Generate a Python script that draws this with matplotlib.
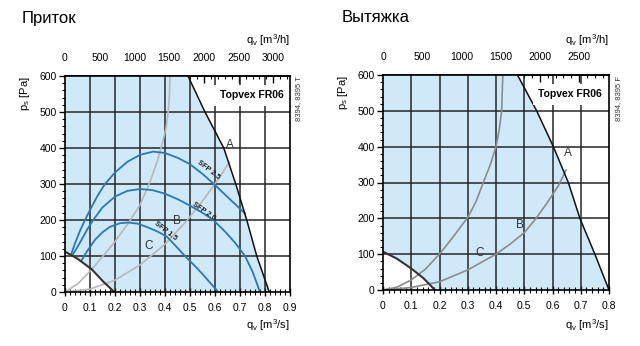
"""Topvex FR06 fan charts: supply (Приток) and extract (Вытяжка)."""

import matplotlib
matplotlib.use("Agg")
import matplotlib.pyplot as plt
from matplotlib.ticker import MultipleLocator, FixedLocator, FuncFormatter

plt.rcParams["font.family"] = ["Liberation Sans", "DejaVu Sans"]
plt.rcParams["mathtext.fontset"] = "custom"
plt.rcParams["mathtext.rm"] = "Liberation Sans"

# --- left chart: supply (Приток) ---
sup_a_q = [0.492, 0.56, 0.635, 0.683, 0.727, 0.767, 0.817]
sup_a_p = [600, 500, 400, 300, 200, 100, 0]
sup_min_q = [0, 0.047, 0.107, 0.153, 0.197]
sup_min_p = [112, 94, 63, 29, 0]
sup_steep_q = [0, 0.053, 0.107, 0.15, 0.2, 0.253, 0.3, 0.34, 0.37, 0.39, 0.404, 0.413, 0.418, 0.42]
sup_steep_p = [0, 24, 63, 98, 140, 191, 242, 306, 365, 415, 455, 500, 550, 600]
sup_shallow_q = [0, 0.1, 0.2, 0.3, 0.4, 0.49, 0.56, 0.62, 0.657]
sup_shallow_p = [0, 8, 33, 75, 133, 200, 262, 320, 360]
sfp_hi_q = [0.025, 0.04, 0.06, 0.08, 0.1, 0.13, 0.16, 0.2, 0.25, 0.3, 0.353, 0.4, 0.45,
            0.5, 0.55, 0.6, 0.65, 0.72]
sfp_hi_p = [105, 135, 170, 200, 228, 267, 300, 332, 362, 381, 390, 386, 373,
            355, 328, 297, 264, 218]
sfp_mid_q = [0.03, 0.05, 0.07, 0.09, 0.113, 0.15, 0.2, 0.25, 0.3, 0.35, 0.4, 0.45, 0.5,
             0.55, 0.593, 0.64, 0.68, 0.72, 0.75, 0.78]
sfp_mid_p = [103, 125, 150, 175, 200, 235, 265, 281, 286, 283, 273, 258, 240,
             220, 200, 168, 137, 100, 57, 0]
sfp_lo_q = [0.067, 0.09, 0.12, 0.15, 0.18, 0.22, 0.253, 0.29, 0.33, 0.37, 0.407, 0.44,
            0.48, 0.52, 0.55, 0.58, 0.613]
sfp_lo_p = [89, 115, 145, 166, 181, 191, 193, 190, 180, 168, 154, 130,
            100, 72, 50, 26, 0]
sfp_labels = ["SFP 2.5", "SFP 2.0", "SFP 1.5"]

# --- right chart: extract (Вытяжка) ---
ext_a_q = [0.476, 0.544, 0.603, 0.656, 0.697, 0.75, 0.8]
ext_a_p = [600, 500, 400, 300, 200, 100, 0]
ext_min_q = [0, 0.048, 0.1, 0.143, 0.184]
ext_min_p = [107, 88, 60, 33, 0]
ext_steep_q = [0, 0.05, 0.1, 0.15, 0.202, 0.25, 0.302, 0.33, 0.355, 0.38, 0.40, 0.412,
               0.42, 0.424]
ext_steep_p = [0, 8, 28, 58, 102, 150, 205, 248, 300, 350, 400, 450, 500, 600]
ext_shallow_q = [0, 0.1, 0.2, 0.3, 0.4, 0.45, 0.5, 0.54, 0.58, 0.62, 0.648]
ext_shallow_p = [0, 7, 23, 56, 100, 128, 160, 198, 242, 290, 335]

FILL = "#cfe9f8"
GRID = "#262626"
BLUE = "#2a78b4"


def q_fmt(v, _pos):
    return "0" if abs(v) < 1e-9 else f"{v:.1f}"


def frame(ax, xmax, top_max):
    ax.set_xlim(0, xmax)
    ax.set_ylim(0, 600)
    ax.xaxis.set_major_locator(MultipleLocator(0.1))
    ax.xaxis.set_minor_locator(MultipleLocator(0.02))
    ax.xaxis.set_major_formatter(FuncFormatter(q_fmt))
    ax.yaxis.set_major_locator(MultipleLocator(100))
    ax.yaxis.set_minor_locator(MultipleLocator(20))
    ax.tick_params(axis="x", which="major", direction="inout", length=6, width=1,
                   labelsize=7.5, pad=5)
    ax.tick_params(axis="x", which="minor", direction="inout", length=4, width=0.8)
    ax.tick_params(axis="y", which="major", direction="out", length=4, width=1,
                   labelsize=7.5, pad=2)
    ax.tick_params(axis="y", which="minor", direction="out", length=2, width=0.8)
    for s in ax.spines.values():
        s.set_linewidth(1.2)
        s.set_zorder(6)
    for v in [i / 10 for i in range(1, int(round(xmax * 10)))]:
        ax.axvline(v, color=GRID, lw=1.1, zorder=2)
    for h in range(100, 600, 100):
        ax.axhline(h, color=GRID, lw=1.1, zorder=2)

    top = ax.secondary_xaxis("top", functions=(lambda q: q * 3600, lambda v: v / 3600))
    top.xaxis.set_major_locator(FixedLocator(list(range(0, top_max + 1, 500))))
    top.xaxis.set_minor_locator(MultipleLocator(100))
    top.tick_params(which="major", direction="in", length=5, width=1, labelsize=7.5, pad=9)
    top.tick_params(which="minor", direction="in", length=2.5, width=0.8)
    top.spines["top"].set_linewidth(1.2)


def envelope(ax, a_q, a_p, m_q, m_p):
    xs = [0, 0] + a_q + m_q[::-1]
    ys = [m_p[0], 600] + a_p + m_p[::-1]
    ax.fill(xs, ys, color=FILL, lw=0, zorder=1)
    ax.plot(a_q, a_p, color="#111111", lw=1.1, zorder=5)
    ax.plot(m_q, m_p, color="#333333", lw=1.5, zorder=5)


fig = plt.figure(figsize=(6.4, 3.46), dpi=100)
axl = fig.add_axes([65 / 640, 1 - 292 / 346, 225 / 640, 216 / 346])
axr = fig.add_axes([383 / 640, 1 - 290 / 346, 226 / 640, 215 / 346])

# left
frame(axl, 0.9, 3000)
envelope(axl, sup_a_q, sup_a_p, sup_min_q, sup_min_p)
axl.plot(sup_steep_q, sup_steep_p, color="#b8b8b8", lw=1.2, zorder=3)
axl.plot(sup_shallow_q, sup_shallow_p, color="#b8b8b8", lw=1.2, zorder=3)
for q, p in [(sfp_hi_q, sfp_hi_p), (sfp_mid_q, sfp_mid_p), (sfp_lo_q, sfp_lo_p)]:
    axl.plot(q, p, color=BLUE, lw=1.3, zorder=4)
for lab, (x, y, r) in zip(sfp_labels, [(0.575, 340, -38), (0.555, 224, -35), (0.40, 170, -38)]):
    axl.text(x, y, lab, fontsize=5.3, fontweight="bold", rotation=r, color="#222222",
             ha="center", va="center", zorder=7)
for lab, (x, y) in zip("ABC", [(0.66, 408), (0.449, 198), (0.333, 128)]):
    axl.text(x, y, lab, fontsize=8.5, color="#333333", ha="center", va="center", zorder=7)

# right
frame(axr, 0.8, 2500)
envelope(axr, ext_a_q, ext_a_p, ext_min_q, ext_min_p)
axr.plot(ext_steep_q, ext_steep_p, color="#8c8c8c", lw=1.2, zorder=3)
axr.plot(ext_shallow_q, ext_shallow_p, color="#8c8c8c", lw=1.2, zorder=3)
for lab, (x, y) in zip("ABC", [(0.653, 383), (0.485, 181), (0.343, 102)]):
    axr.text(x, y, lab, fontsize=8.5, color="#333333", ha="center", va="center", zorder=7)

for ax, code, xr in [(axl, "8394, 8395 T", 299), (axr, "8394, 8395 F", 619)]:
    ax.text(0.97, 0.91, "Topvex FR06", transform=ax.transAxes, ha="right", va="center",
            fontsize=7.5, fontweight="bold", zorder=7,
            bbox=dict(facecolor="white", edgecolor="none", pad=4))
    ax.set_ylabel("p$_\\mathregular{s}$ [Pa]", fontsize=8)
    ax.yaxis.set_label_coords(-0.145, 0.92)
    fig.text(xr / 640, 1 - 76 / 346, code, rotation=90, fontsize=5.5, ha="center", va="top",
             color="#333333")

fig.text(290 / 640, 1 - 40 / 346, "q$_\\mathregular{v}$ [m$^\\mathregular{3}$/h]",
         fontsize=8, ha="right", va="center")
fig.text(609 / 640, 1 - 40 / 346, "q$_\\mathregular{v}$ [m$^\\mathregular{3}$/h]",
         fontsize=8, ha="right", va="center")
fig.text(290 / 640, 1 - 325 / 346, "q$_\\mathregular{v}$ [m$^\\mathregular{3}$/s]",
         fontsize=8, ha="right", va="center")
fig.text(609 / 640, 1 - 325 / 346, "q$_\\mathregular{v}$ [m$^\\mathregular{3}$/s]",
         fontsize=8, ha="right", va="center")

fig.text(22 / 640, 1 - 18 / 346, "Приток", fontsize=12, ha="left", va="center")
fig.text(342 / 640, 1 - 18 / 346, "Вытяжка", fontsize=12, ha="left", va="center")

fig.savefig("out.png", dpi=100)
